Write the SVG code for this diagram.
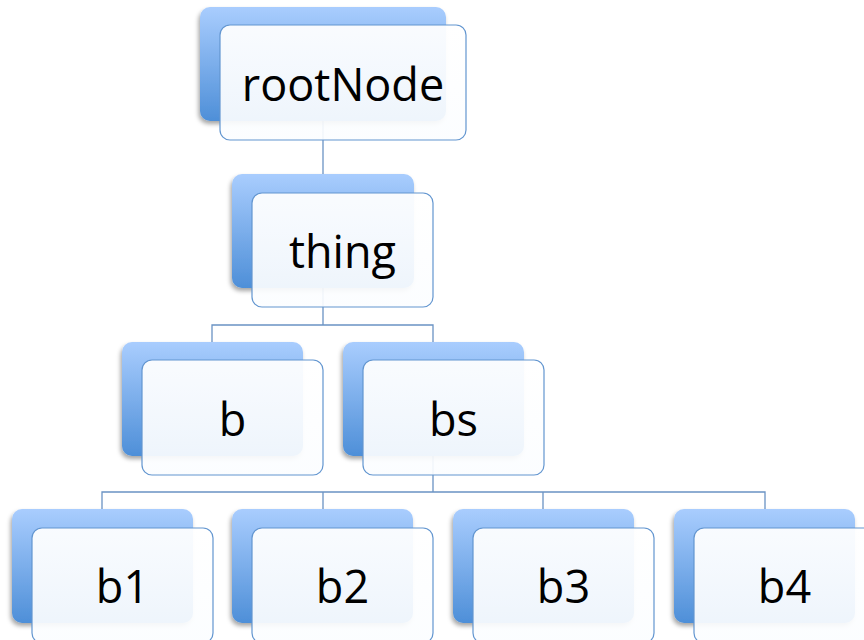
<svg xmlns="http://www.w3.org/2000/svg" width="864" height="640" viewBox="0 0 864 640">
  <defs>
    <linearGradient id="backGrad" x1="0" y1="0" x2="0" y2="1">
      <stop offset="0" stop-color="#a9cdfe"/>
      <stop offset="1" stop-color="#4e8fd8"/>
    </linearGradient>
    <linearGradient id="frontGrad" x1="0" y1="0" x2="0" y2="1">
      <stop offset="0" stop-color="#ffffff" stop-opacity="0.94"/>
      <stop offset="1" stop-color="#fbfdff" stop-opacity="0.92"/>
    </linearGradient>
    <filter id="shadow" x="-10%" y="-10%" width="120%" height="130%">
      <feDropShadow dx="-1.5" dy="3" stdDeviation="2" flood-color="#000" flood-opacity="0.35"/>
    </filter>
  </defs>
  <style>
    .back { fill: url(#backGrad); filter: url(#shadow); }
    .front { fill: url(#frontGrad); stroke: #6396d0; stroke-width: 1.2; }
    .lbl { font-family: "Open Sans", "Liberation Sans", sans-serif; font-size: 45px; fill: #000; text-anchor: middle; }
    .conn { fill: none; stroke: #6a93c4; stroke-width: 1.3; }
  </style>
  <rect width="864" height="640" fill="#ffffff"/>

  <g id="connectors">
    <path class="conn" d="M323,121 V174"/>
    <path class="conn" d="M323,288 V325 M212,342 V325 H433 V342"/>
    <path class="conn" d="M433,456 V492 M102,509 V492 H765 V509 M323,492 V509 M543,492 V509"/>
  </g>

  <g id="rootNode">
    <rect class="back" x="200" y="7" width="246" height="114" rx="10"/>
    <rect class="front" x="220" y="25" width="246" height="115" rx="10"/>
    <text class="lbl" x="343" y="101">rootNode</text>
  </g>

  <g id="thing">
    <rect class="back" x="232" y="174" width="182" height="114" rx="10"/>
    <rect class="front" x="252" y="193" width="181" height="114" rx="10"/>
    <text class="lbl" x="342.5" y="268">thing</text>
  </g>

  <g id="b">
    <rect class="back" x="122" y="342" width="181" height="114" rx="10"/>
    <rect class="front" x="142" y="360" width="181" height="115" rx="10"/>
    <text class="lbl" x="232.5" y="436">b</text>
  </g>

  <g id="bs">
    <rect class="back" x="343" y="342" width="181" height="114" rx="10"/>
    <rect class="front" x="363" y="360" width="181" height="115" rx="10"/>
    <text class="lbl" x="453.5" y="436">bs</text>
  </g>

  <g id="b1">
    <rect class="back" x="12" y="509" width="181" height="114" rx="10"/>
    <rect class="front" x="32" y="528" width="181" height="115" rx="10"/>
    <text class="lbl" x="122.5" y="603">b1</text>
  </g>

  <g id="b2">
    <rect class="back" x="232" y="509" width="181" height="114" rx="10"/>
    <rect class="front" x="252" y="528" width="181" height="115" rx="10"/>
    <text class="lbl" x="342.5" y="603">b2</text>
  </g>

  <g id="b3">
    <rect class="back" x="453" y="509" width="181" height="114" rx="10"/>
    <rect class="front" x="473" y="528" width="181" height="115" rx="10"/>
    <text class="lbl" x="563.5" y="603">b3</text>
  </g>

  <g id="b4">
    <rect class="back" x="674" y="509" width="181" height="114" rx="10"/>
    <rect class="front" x="694" y="528" width="181" height="115" rx="10"/>
    <text class="lbl" x="784.5" y="603">b4</text>
  </g>
</svg>
